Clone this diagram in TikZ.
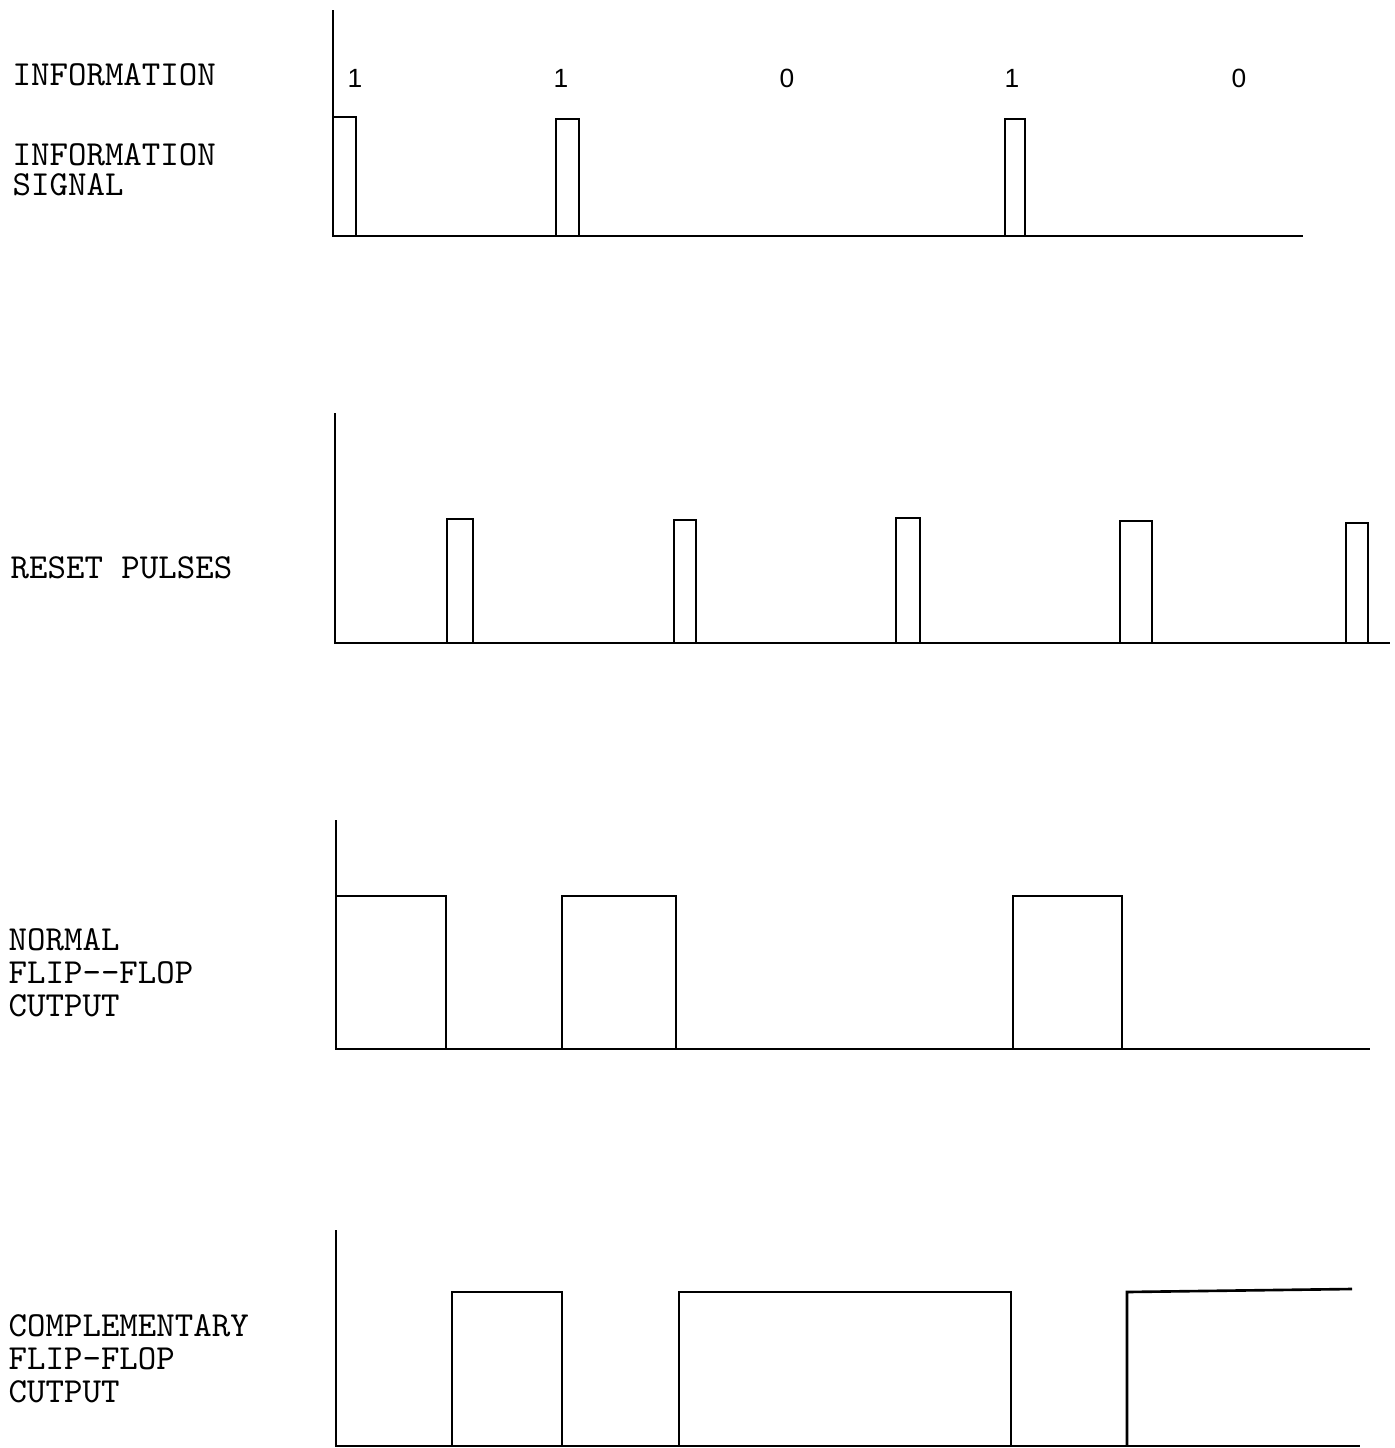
\documentclass[tikz,border=0pt]{standalone}
\usepackage{fontspec}
\setsansfont{Liberation Sans}

\begin{document}
\begin{tikzpicture}[x=0.01cm, y=-0.01cm,
    wave/.style={line width=0.75pt},
    lbl/.style={anchor=west, inner sep=0pt, align=left,
        font=\ttfamily\fontsize{10}{9.4}\selectfont},
    bit/.style={inner sep=0pt, font=\sffamily\fontsize{7.5}{9}\selectfont}]
    \useasboundingbox (0,0) rectangle (1395,1448);

    % information signal
    \draw [wave] (333,10) -- (333,236) -- (1303,236);
    \foreach \a/\b/\t in {333/356/117, 556/579/119, 1005/1025/119}
        \draw [wave] (\a,236) -- (\a,\t) -- (\b,\t) -- (\b,236);
    \node [lbl] (info) at (12,75) {INFORMATION};
    \node [lbl, font=\ttfamily\fontsize{10}{8.6}\selectfont] (infosig) at (12,170) {INFORMATION\\SIGNAL};
    \foreach \x/\v [count=\i] in {355/1, 561/1, 787/0, 1012/1, 1239/0}
        \node [bit] (b\i) at (\x,78) {\v};

    % reset pulses
    \draw [wave] (335,413) -- (335,643) -- (1390,643);
    \foreach \a/\b/\t in {447/473/519, 674/696/520, 896/920/518, 1120/1152/521, 1346/1368/523}
        \draw [wave] (\a,643) -- (\a,\t) -- (\b,\t) -- (\b,643);
    \node [lbl] (reset) at (10,568) {RESET PULSES};

    % normal output
    \draw [wave] (336,820) -- (336,1049) -- (1370,1049);
    \draw [wave] (336,896) -- (446,896) -- (446,1049);
    \foreach \a/\b in {562/676, 1013/1122}
        \draw [wave] (\a,1049) -- (\a,896) -- (\b,896) -- (\b,1049);
    \node [lbl] (normal) at (8,973) {NORMAL\\FLIP-{}-FLOP\\CUTPUT};

    % complementary output
    \draw [wave] (336,1230) -- (336,1446) -- (1360,1446);
    \foreach \a/\b in {452/562, 679/1011}
        \draw [wave] (\a,1446) -- (\a,1292) -- (\b,1292) -- (\b,1446);
    \draw [wave] (1127,1446) -- (1127,1292) -- (1352,1289);
    \node [lbl] (compl) at (8,1359) {COMPLEMENTARY\\FLIP-FLOP\\CUTPUT};
\end{tikzpicture}
\end{document}
